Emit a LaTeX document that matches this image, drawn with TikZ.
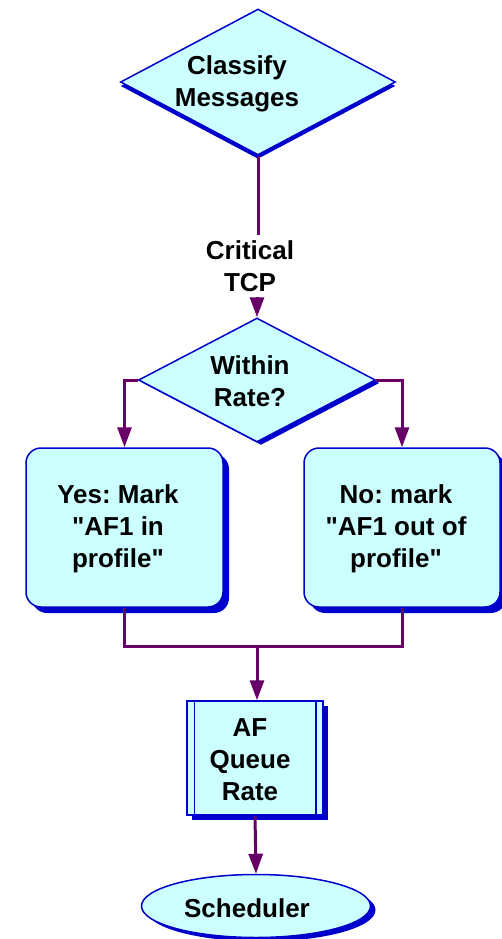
\documentclass[tikz,border=0pt]{standalone}
\usepackage{fontspec}
\setmainfont{Liberation Sans}[Ligatures=TeXOff]
\usetikzlibrary{shapes.geometric,shadows,arrows.meta}
\definecolor{boxfill}{HTML}{CCFFFF}
\definecolor{edgeblue}{HTML}{0000CC}
\definecolor{flowpurple}{HTML}{660066}
\frenchspacing
\begin{document}
\begin{tikzpicture}[x=1pt,y=-1pt,
  shapebase/.style={draw=edgeblue, line width=1.5pt, fill=boxfill, inner sep=0pt},
  dshadow/.style 2 args={drop shadow={shadow xshift=#1pt, shadow yshift=#2pt, fill=edgeblue, opacity=1}},
  decision/.style={shapebase, diamond},
  stepbox/.style={shapebase, rectangle, rounded corners=15pt},
  procbox/.style={shapebase, rectangle},
  terminal/.style={shapebase, ellipse},
  lbl/.style={font=\bfseries\fontsize{26}{32}\selectfont, align=center, inner sep=0pt},
  flow/.style={draw=flowpurple, line width=3pt},
  flowarrow/.style={flow, -{Triangle[width=14pt,length=20pt]}}]
\useasboundingbox (0,0) rectangle (502,939);

% shapes
\node[decision, dshadow={0}{-4}, minimum width=275pt, minimum height=146pt] (d1) at (258,82) {};
\node[decision, dshadow={4}{-3}, minimum width=237pt, minimum height=124pt] (d2) at (257,380) {};
\node[stepbox, dshadow={6}{-6}, minimum width=197pt, minimum height=159pt] (b1) at (124.5,527.5) {};
\node[stepbox, dshadow={6}{-6}, minimum width=196pt, minimum height=159pt] (b2) at (402,527.5) {};
\node[procbox, dshadow={5}{-5}, minimum width=136pt, minimum height=114pt] (af) at (255,758) {};
\draw[edgeblue, line width=1.5pt] ([xshift=8pt]af.north west) -- ([xshift=8pt]af.south west)
  ([xshift=-8pt]af.north east) -- ([xshift=-8pt]af.south east);
\node[terminal, dshadow={5}{-4}, minimum width=229pt, minimum height=63pt] (sched) at (256,906) {};

% texts
\node[lbl] (t1) at (237,84) {Classify\\Messages};
\node[lbl, inner sep=5pt] (crit) at (250,266) {Critical\\TCP};
\node[lbl] (t2) at (250,381) {Within\\Rate?};
\node[lbl] (t3) at (118,529) {Yes: Mark\\"AF1 in\\profile"};
\node[lbl] (t4) at (396,529) {No: mark\\"AF1 out of\\profile"};
\node[lbl] (t5) at (250,760) {AF\\Queue\\Rate};
\node[lbl] (t6) at (247,908) {Scheduler};

% connectors
\coordinate (join) at (257,646);
\draw[flow] (d1.south) -- (d1.south |- crit.north);
\draw[flowarrow] (d2.north |- crit.south) -- (d2.north);
\draw[flowarrow] (d2.west) -| (b1.north);
\draw[flowarrow] (d2.east) -| (b2.north);
\draw[flow] (b1.south) |- (join) -| (b2.south);
\draw[flowarrow] (join) -- (join |- af.north);
\draw[flowarrow] (af.south) -- (sched.north);
\end{tikzpicture}
\end{document}
